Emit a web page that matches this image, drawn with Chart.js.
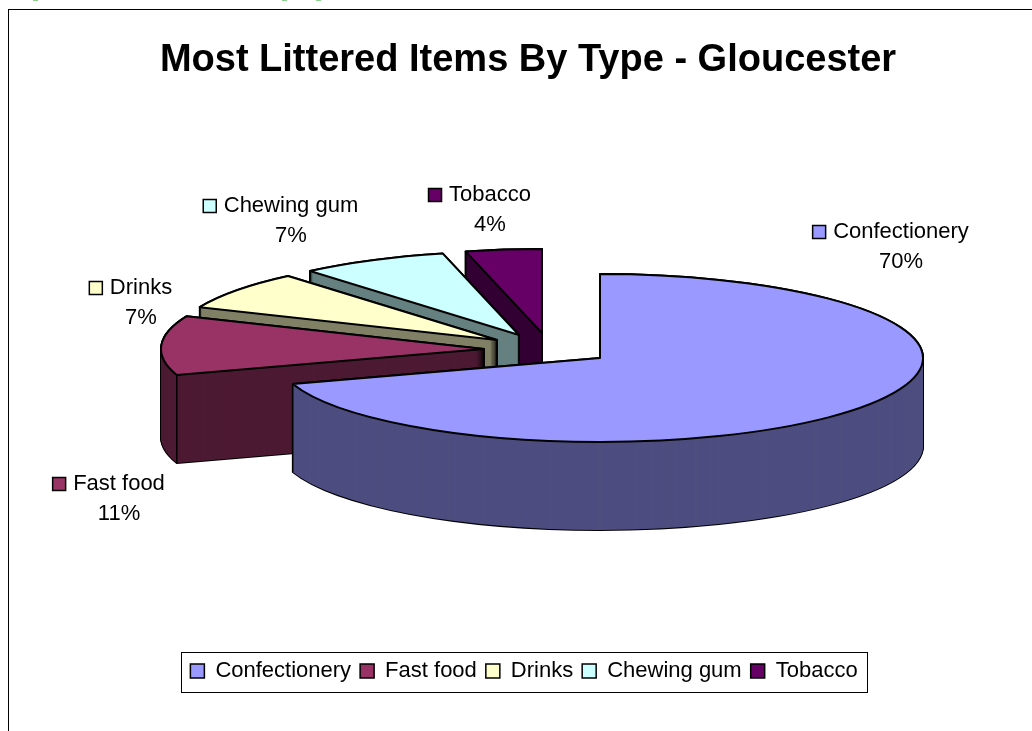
<!DOCTYPE html>
<html>
<head>
<meta charset="utf-8">
<style>
  html, body { margin: 0; padding: 0; background: #fff; overflow: hidden; }
  #wrap { position: absolute; left: 0; top: 0; width: 1032px; height: 731px; }
</style>
<script src="https://cdn.jsdelivr.net/npm/chart.js@4"></script>
</head>
<body>
<div id="wrap"><canvas id="chart" width="1032" height="731"></canvas></div>
<script>
const categories = ['Confectionery', 'Fast food', 'Drinks', 'Chewing gum', 'Tobacco'];
const shares = [70, 11.4, 7.4, 7.4, 3.8];
const faceColors = ['#9999ff', '#993366', '#ffffcc', '#ccffff', '#660066'];
const wallColors = ['#4d4d80', '#4d1a33', '#808066', '#668080', '#330033'];

// pseudo 3D look of the pie, in screen pixels
const PIE_X = 600, PIE_Y = 358, TILT = 0.26, DEPTH = 88;
const explode = [[0, 0], [-116, -9], [-103, -18], [-81, -23], [-58, -25]];
const labelPos = [[901, 232], [119, 484], [141, 288], [291, 206], [490, 195]];

const FONT = 'Liberation Sans, Arial, sans-serif';

function placeSlice(ctx, arc, i, drop) {
    ctx.translate(PIE_X + explode[i][0], PIE_Y + explode[i][1] + drop);
    ctx.scale(1, TILT);
    ctx.translate(-arc.x, -arc.y);
}

function slicePath(ctx, arc, i, drop) {
    ctx.save();
    placeSlice(ctx, arc, i, drop);
    ctx.beginPath();
    ctx.moveTo(arc.x, arc.y);
    ctx.arc(arc.x, arc.y, arc.outerRadius, arc.startAngle, arc.endAngle);
    ctx.closePath();
    ctx.restore();
}

function cornerAt(arc, i, angle) {
    return [
        PIE_X + explode[i][0] + Math.cos(angle) * arc.outerRadius,
        PIE_Y + explode[i][1] + Math.sin(angle) * arc.outerRadius * TILT
    ];
}

function drawWall(ctx, arc, i) {
    // black silhouette first, then the fill on top of it
    ctx.strokeStyle = '#000';
    ctx.lineWidth = 2;
    ctx.lineJoin = 'round';
    for (let d = DEPTH; d >= 0; d--) {
        slicePath(ctx, arc, i, d);
        ctx.stroke();
    }
    ctx.fillStyle = wallColors[i];
    for (let d = DEPTH; d >= 0; d--) {
        slicePath(ctx, arc, i, d);
        ctx.fill();
    }
    // vertical edges, the big slice hides its own tip
    const pts = [cornerAt(arc, i, arc.startAngle)];
    if (i > 0) pts.push([PIE_X + explode[i][0], PIE_Y + explode[i][1]]);
    ctx.lineWidth = 1.5;
    ctx.beginPath();
    pts.forEach(p => {
        ctx.moveTo(p[0], p[1]);
        ctx.lineTo(p[0], p[1] + DEPTH);
    });
    ctx.stroke();
}

const pie3d = {
    id: 'pie3d',
    beforeDraw(chart) {
        const ctx = chart.ctx;
        ctx.save();
        ctx.fillStyle = '#fff';
        ctx.fillRect(0, 0, chart.width, chart.height);
        ctx.strokeStyle = '#000';
        ctx.lineWidth = 1;
        ctx.strokeRect(8.5, 9.5, 1200, 1200);
        // bottoms of the page text cut off above the chart
        ctx.fillStyle = '#8fd08f';
        [33, 282, 316].forEach(x => ctx.fillRect(x, 0, 5, 1));
        ctx.restore();
    },
    afterLayout(chart) {
        chart.titleBlock.left += 4;
        chart.titleBlock.right += 4;
    },
    beforeDatasetsDraw(chart) {
        const ctx = chart.ctx;
        const arcs = chart.getDatasetMeta(0).data;
        // back to front so the big slice covers the others
        [4, 3, 2, 1, 0].forEach(i => {
            const arc = arcs[i];
            ctx.save();
            drawWall(ctx, arc, i);
            ctx.save();
            placeSlice(ctx, arc, i, 0);
            arc.draw(ctx);
            ctx.restore();
            slicePath(ctx, arc, i, 0);
            ctx.strokeStyle = '#000';
            ctx.lineWidth = 2;
            ctx.lineJoin = 'round';
            ctx.stroke();
            ctx.restore();
        });
        return false;
    },
    afterDraw(chart) {
        const ctx = chart.ctx;
        ctx.save();
        ctx.strokeStyle = '#000';
        ctx.lineWidth = 1;
        ctx.strokeRect(181.5, 652.5, 686, 40);
        // slice labels with their small key
        ctx.font = '22px ' + FONT;
        ctx.textBaseline = 'middle';
        ctx.textAlign = 'center';
        categories.forEach((name, i) => {
            const [x, y] = labelPos[i];
            const w = ctx.measureText(name).width;
            const boxX = x - w / 2 - 21;
            ctx.fillStyle = faceColors[i];
            ctx.fillRect(boxX + 0.5, y - 6.5, 13, 13);
            ctx.strokeStyle = '#000';
            ctx.lineWidth = 1.5;
            ctx.strokeRect(boxX + 0.5, y - 6.5, 13, 13);
            ctx.fillStyle = '#000';
            ctx.fillText(name, x, y);
            ctx.fillText(Math.round(shares[i]) + '%', x, y + 30);
        });
        ctx.restore();
    }
};

new Chart(document.getElementById('chart'), {
    type: 'pie',
    data: {
        labels: categories,
        datasets: [{
            data: shares,
            backgroundColor: faceColors,
            borderWidth: 0,
            radius: 323
        }]
    },
    options: {
        responsive: false,
        animation: false,
        layout: { padding: { left: 16, bottom: 39 } },
        plugins: {
            tooltip: { enabled: false },
            title: {
                display: true,
                text: 'Most Littered Items By Type - Gloucester',
                color: '#000',
                font: { family: FONT, size: 38, weight: 'bold' },
                padding: { top: 38, bottom: 20 }
            },
            legend: {
                position: 'bottom',
                labels: {
                    color: '#000',
                    font: { family: FONT, size: 22 },
                    boxWidth: 14,
                    boxHeight: 14,
                    padding: 9,
                    generateLabels() {
                        return categories.map((name, i) => ({
                            text: name,
                            fillStyle: faceColors[i],
                            strokeStyle: '#000',
                            lineWidth: 1.5,
                            index: i
                        }));
                    }
                }
            }
        }
    },
    plugins: [pie3d]
});
</script>
</body>
</html>
